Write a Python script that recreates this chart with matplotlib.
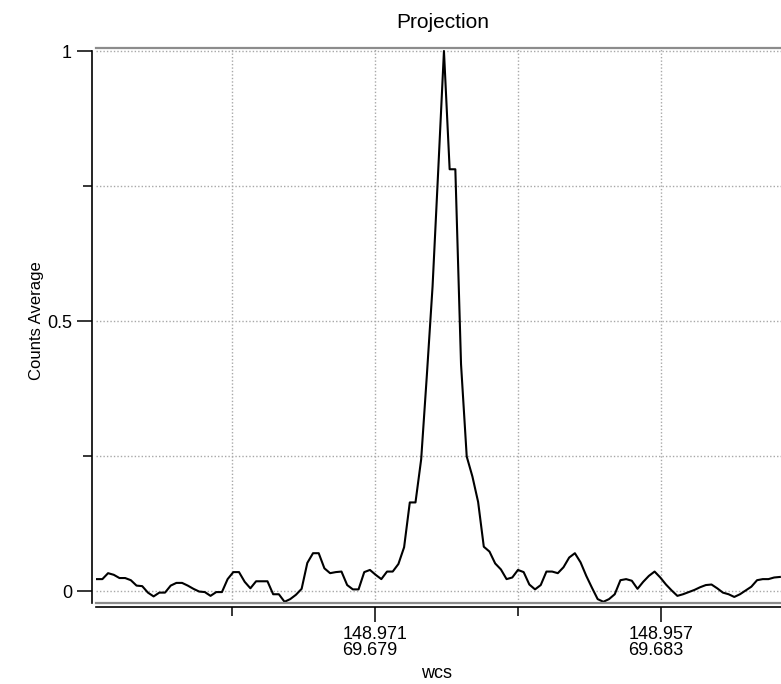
import numpy as np
import matplotlib
matplotlib.use("Agg")
import matplotlib.pyplot as plt

plt.rcParams['font.family'] = ['Liberation Sans', 'DejaVu Sans']

# normalised counts along the projection, one value per sample
counts = [0.022, 0.022, 0.033, 0.030, 0.024, 0.024, 0.020, 0.010, 0.009, -0.003,
          -0.010, -0.003, -0.003, 0.010, 0.015, 0.015, 0.010, 0.004, -0.001, -0.002,
          -0.009, -0.002, -0.002, 0.022, 0.035, 0.035, 0.017, 0.005, 0.018, 0.018,
          0.018, -0.006, -0.006, -0.020, -0.015, -0.007, 0.004, 0.052, 0.070, 0.070,
          0.042, 0.033, 0.035, 0.036, 0.011, 0.003, 0.003, 0.035, 0.039, 0.030,
          0.022, 0.036, 0.036, 0.050, 0.081, 0.164, 0.164, 0.244, 0.400, 0.564,
          0.780, 1.000, 0.781, 0.781, 0.420, 0.249, 0.212, 0.165, 0.082, 0.073,
          0.051, 0.040, 0.022, 0.025, 0.039, 0.035, 0.012, 0.003, 0.011, 0.036,
          0.036, 0.033, 0.044, 0.062, 0.070, 0.053, 0.028, 0.006, -0.015, -0.020,
          -0.015, -0.006, 0.020, 0.022, 0.019, 0.004, 0.017, 0.028, 0.036, 0.025,
          0.012, 0.001, -0.009, -0.006, -0.002, 0.002, 0.007, 0.011, 0.012, 0.005,
          -0.003, -0.006, -0.011, -0.006, 0.001, 0.008, 0.020, 0.022, 0.022, 0.025,
          0.026]
pix = np.arange(len(counts))

# wcs ticks (sample positions) and their RA / Dec labels
major_ticks = [48.88, 99.07]
major_labels = ["148.971\n69.679", "148.957\n69.683"]
minor_ticks = [23.82, 74.06]
y_major = [0, 0.5, 1]
y_labels = ["0", "0.5", "1"]
y_minor = [0.25, 0.75]

W, H = 781, 684
fig = plt.figure(figsize=(W / 100, H / 100), dpi=100)
ax = fig.add_axes([96 / W, (H - 603) / H, (803 - 96) / W, (603 - 48) / H])

ax.plot(pix, counts, color='black', lw=1.5)
ymin, ymax = -12 / 540, 1 + 3 / 540
ax.set_xlim(-0.12, 124.07)
ax.set_ylim(ymin, ymax)

# Igor style frame: black free axes set off from the gray plot frame
# (set_position resets the ticks, so do this before labelling them)
for side in ['left', 'bottom']:
    ax.spines[side].set_position(('outward', 2.7))
    ax.spines[side].set_color('black')
    ax.spines[side].set_linewidth(1.2)
ax.spines['left'].set_bounds(ymin, 1)
ax.spines['right'].set_visible(False)
ax.spines['top'].set_color('#8c8c8c')
ax.spines['top'].set_linewidth(1.6)
ax.plot([0, 1], [0, 0], transform=ax.transAxes, color='#8c8c8c', lw=1.6,
        clip_on=False)

ax.set_xticks(major_ticks)
ax.set_xticks(minor_ticks, minor=True)
ax.set_yticks(y_major)
ax.set_yticklabels(y_labels)
ax.set_yticks(y_minor, minor=True)

ax.tick_params(which='major', direction='out', length=10.5, width=1.1,
               labelsize=13, pad=3.5, color='black')
ax.tick_params(which='minor', direction='out', length=6.5, width=1.1,
               color='black')
ax.tick_params(axis='y', which='major', pad=4)
ax.grid(which='both', color='#a8a8a8', linestyle=(0, (1, 1.5)), linewidth=1.0)

# two-line RA/Dec labels, left aligned under each tick
ax.set_xticklabels(major_labels, multialignment='left', linespacing=0.9)

fig.text(443 / W, 1 - 22 / H, "Projection", ha='center', va='center', fontsize=15)
fig.text(37 / W, 1 - 321 / H, "Counts Average", ha='center', va='center',
         rotation=90, fontsize=12)
fig.text(437 / W, 1 - 678 / H, "wcs", ha='center', va='baseline', fontsize=13)

fig.savefig("out.png", dpi=100)
